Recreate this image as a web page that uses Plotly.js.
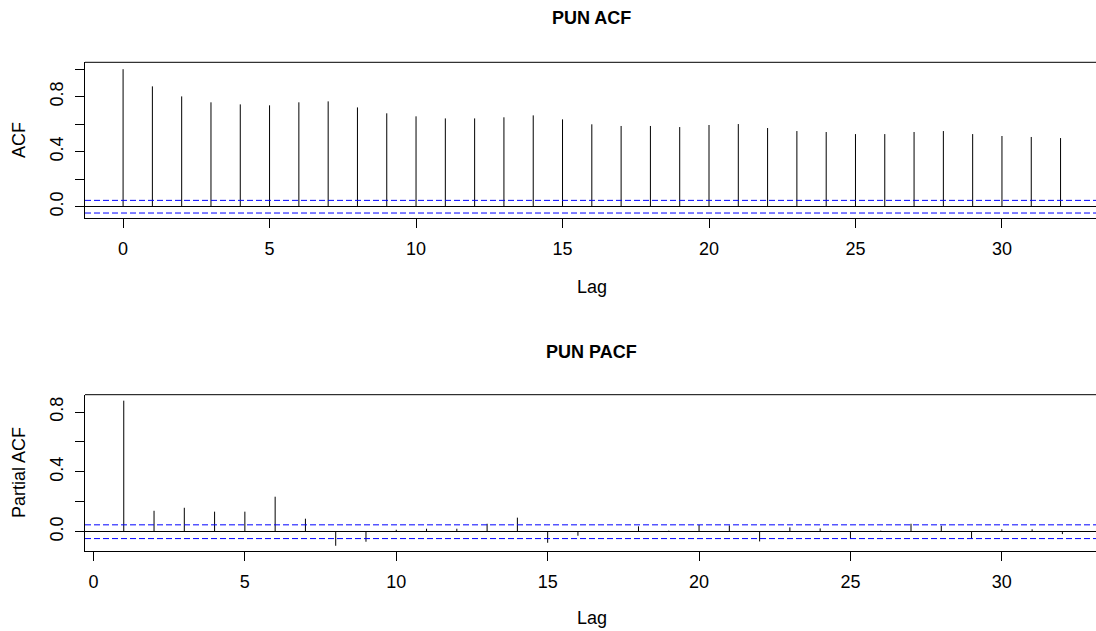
<!DOCTYPE html>
<html>
<head>
<meta charset="utf-8">
<script src="https://cdn.plot.ly/plotly-3.0.1.min.js"></script>
<style>html,body{margin:0;padding:0;background:#fff;overflow:hidden;}</style>
</head>
<body>
<div id="chart" style="width:1096px;height:631px;"></div>
<script>
// ---- data ----
const acfLags = [0,1,2,3,4,5,6,7,8,9,10,11,12,13,14,15,16,17,18,19,20,21,22,23,24,25,26,27,28,29,30,31,32];
const acfValues = [1.000,0.875,0.802,0.759,0.744,0.737,0.759,0.766,0.722,0.679,0.657,0.642,0.642,0.650,0.664,0.635,0.599,
                   0.587,0.587,0.579,0.594,0.601,0.572,0.550,0.543,0.528,0.528,0.543,0.550,0.528,0.514,0.507,0.499];
const pacfLags = [1,2,3,4,5,6,7,8,9,10,11,12,13,14,15,16,17,18,19,20,21,22,23,24,25,26,27,28,29,30,31,32];
const pacfValues = [0.876,0.140,0.160,0.134,0.134,0.234,0.087,-0.094,-0.067,0.013,0.020,0.020,0.053,0.094,-0.074,-0.027,
                    0.005,0.036,0.007,0.045,0.042,-0.065,0.029,0.022,-0.049,0.007,0.053,0.040,-0.047,0.016,0.016,-0.016];
const ciBound = 0.046;
const xTickVals = [0,5,10,15,20,25,30];
const yTickVals = [0,0.2,0.4,0.6,0.8,1.0];
const yTickText = ["0.0","","0.4","","0.8",""];
const titles = {acf: "PUN ACF", pacf: "PUN PACF", acfY: "ACF", pacfY: "Partial ACF", x: "Lag"};

// ---- helpers ----
function stems(lags, vals) {
  const x = [], y = [];
  lags.forEach((l, i) => { x.push(l, l, null); y.push(0, vals[i], null); });
  return {x, y};
}
const W = 1096, H = 631;
const px = v => v / W;
const py = v => 1 - v / H;

const topX = [-1.30, 33.21], topY = [-0.0844, 1.050];
const botX = [-0.28, 33.11], botY = [-0.129, 0.916];

const s1 = stems(acfLags, acfValues);
const s2 = stems(pacfLags, pacfValues);
const FONT = "Liberation Sans, Arial, sans-serif";
const FS = 18;

const traces = [
  {x: s1.x, y: s1.y, xaxis: 'x', yaxis: 'y', mode: 'lines', line: {color: '#000', width: 1}, hoverinfo: 'skip'},
  {x: topX, y: [ciBound, ciBound], xaxis: 'x', yaxis: 'y', mode: 'lines', line: {color: '#0000ff', width: 1, dash: '6px,3px'}},
  {x: topX, y: [-ciBound, -ciBound], xaxis: 'x', yaxis: 'y', mode: 'lines', line: {color: '#0000ff', width: 1, dash: '6px,3px'}},
  {x: s2.x, y: s2.y, xaxis: 'x2', yaxis: 'y2', mode: 'lines', line: {color: '#000', width: 1}, hoverinfo: 'skip'},
  {x: botX, y: [ciBound, ciBound], xaxis: 'x2', yaxis: 'y2', mode: 'lines', line: {color: '#0000ff', width: 1, dash: '6px,3px'}},
  {x: botX, y: [-ciBound, -ciBound], xaxis: 'x2', yaxis: 'y2', mode: 'lines', line: {color: '#0000ff', width: 1, dash: '6px,3px'}}
];

const xAxisBase = {
  tickmode: 'array', tickvals: xTickVals, ticks: 'outside', ticklen: 9, tickwidth: 1, tickcolor: '#000',
  showline: true, linecolor: '#000', linewidth: 1, showgrid: false, zeroline: false,
  tickfont: {family: FONT, size: FS, color: '#000'}, ticklabelstandoff: 5, fixedrange: true
};
const yAxisBase = {
  tickmode: 'array', tickvals: yTickVals, ticktext: yTickText, ticks: 'outside', ticklen: 9, tickwidth: 1, tickcolor: '#000',
  showline: true, linecolor: '#000', linewidth: 1, showgrid: false,
  zeroline: true, zerolinecolor: '#000', zerolinewidth: 1, tickangle: -90,
  tickfont: {family: FONT, size: FS, color: '#000'}, ticklabelstandoff: 5, fixedrange: true
};

const layout = {
  width: W, height: H, margin: {l: 0, r: 0, t: 0, b: 0},
  paper_bgcolor: '#fff', plot_bgcolor: '#fff', showlegend: false,
  xaxis: Object.assign({}, xAxisBase, {domain: [px(85), 1], range: topX, anchor: 'y'}),
  yaxis: Object.assign({}, yAxisBase, {domain: [py(218.3), py(62.3)], range: topY, anchor: 'x'}),
  xaxis2: Object.assign({}, xAxisBase, {domain: [px(85), 1], range: botX, anchor: 'y2'}),
  yaxis2: Object.assign({}, yAxisBase, {domain: [py(551), py(394.7)], range: botY, anchor: 'x2'}),
  shapes: [
    {type: 'line', xref: 'paper', yref: 'paper', x0: px(85), x1: 1, y0: py(62.3), y1: py(62.3), line: {color: '#000', width: 1}},
    {type: 'line', xref: 'paper', yref: 'paper', x0: px(85), x1: 1, y0: py(394.7), y1: py(394.7), line: {color: '#000', width: 1}}
  ],
  annotations: [
    {text: '<b>' + titles.acf + '</b>', xref: 'paper', yref: 'paper', x: px(591), y: py(18), showarrow: false,
     xanchor: 'center', yanchor: 'middle', font: {family: FONT, size: 18, color: '#000'}},
    {text: '<b>' + titles.pacf + '</b>', xref: 'paper', yref: 'paper', x: px(591), y: py(352), showarrow: false,
     xanchor: 'center', yanchor: 'middle', font: {family: FONT, size: 18, color: '#000'}},
    {text: titles.x, xref: 'paper', yref: 'paper', x: px(592), y: py(287), showarrow: false,
     xanchor: 'center', yanchor: 'middle', font: {family: FONT, size: FS, color: '#000'}},
    {text: titles.x, xref: 'paper', yref: 'paper', x: px(592), y: py(618), showarrow: false,
     xanchor: 'center', yanchor: 'middle', font: {family: FONT, size: FS, color: '#000'}},
    {text: titles.acfY, xref: 'paper', yref: 'paper', x: px(19), y: py(140), showarrow: false, textangle: -90,
     xanchor: 'center', yanchor: 'middle', font: {family: FONT, size: FS, color: '#000'}},
    {text: titles.pacfY, xref: 'paper', yref: 'paper', x: px(19), y: py(473), showarrow: false, textangle: -90,
     xanchor: 'center', yanchor: 'middle', font: {family: FONT, size: FS, color: '#000'}}
  ]
};

Plotly.newPlot('chart', traces, layout, {displayModeBar: false, staticPlot: true});
</script>
</body>
</html>
